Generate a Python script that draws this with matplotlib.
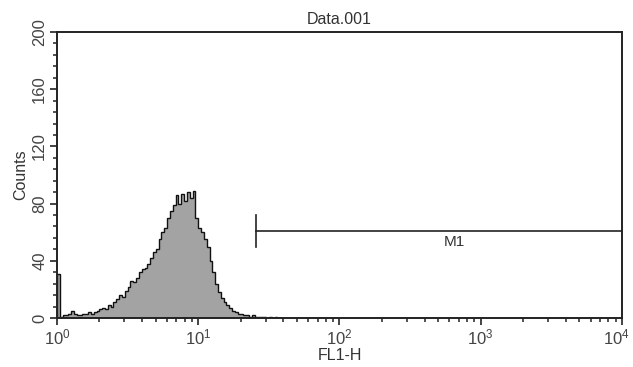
import numpy as np
import matplotlib
matplotlib.use("Agg")
from matplotlib import pyplot as plt
from matplotlib import transforms
from matplotlib.ticker import FixedLocator, NullFormatter

plt.rcParams['font.family'] = ['Liberation Sans', 'DejaVu Sans']
plt.rcParams['mathtext.fontset'] = 'custom'
plt.rcParams['mathtext.rm'] = 'Liberation Sans'
plt.rcParams['mathtext.it'] = 'Liberation Sans'

# FL1-H histogram: channel width is 0.02 decade, starting at 10^0
bin_step = 0.02
counts = [31, 1, 2, 2, 3, 5, 3, 2, 2, 3,
          3, 4, 3, 4, 5, 6, 7, 6, 9, 8,
          11, 13, 16, 15, 19, 22, 26, 25, 28, 32,
          34, 35, 38, 42, 46, 48, 55, 60, 63, 70,
          75, 79, 86, 80, 87, 82, 88, 84, 89, 70,
          63, 60, 55, 50, 40, 32, 24, 18, 14, 11,
          9, 7, 5, 4, 3, 3, 2, 2, 1, 2,
          1, 1, 1, 1, 0, 1, 0, 1, 0, 0]

# M1 marker gate
m1_start, m1_end, m1_level = 25.5, 1e4, 61

y_major = [0, 40, 80, 120, 160, 200]
x_major = [1, 10, 100, 1000, 10000]
x_labels = [r'$10^{0}$', r'$10^{1}$', r'$10^{2}$', r'$10^{3}$', r'$10^{4}$']

fig = plt.figure(figsize=(6.33, 3.67), dpi=100)
ax = fig.add_axes([0.090, 0.1335, 0.8926, 0.7793])

edges = 10 ** (np.arange(len(counts) + 1) * bin_step)
ax.stairs(counts, edges, fill=True, color='#a3a3a3', baseline=0)
ax.stairs(counts, edges, color='#111111', lw=1.0, baseline=0)

ax.plot([m1_start, m1_end], [m1_level, m1_level], color='#222222', lw=1.2)
ax.plot([m1_start, m1_start], [m1_level - 11, m1_level + 11], color='#222222', lw=1.2)
ax.text(650, m1_level - 8, 'M1', ha='center', va='center', fontsize=11, color='#333333')

ax.set_xscale('log')
ax.set_xlim(1, 1e4)
ax.set_ylim(0, 200)

ax.xaxis.set_major_locator(FixedLocator(x_major))
ax.set_xticklabels(x_labels)
ax.xaxis.set_minor_locator(FixedLocator(
    [m * 10 ** e for e in range(4) for m in range(2, 10)]))
ax.xaxis.set_minor_formatter(NullFormatter())

ax.set_yticks(y_major)
ax.set_yticks(np.arange(0, 201, 8), minor=True)
for lbl in ax.get_yticklabels():
    lbl.set_rotation(90)
    lbl.set_va('center')

ax.tick_params(which='major', direction='out', length=5, width=1.2,
               labelsize=12, colors='#222222', labelcolor='#444444')
ax.tick_params(which='minor', direction='out', length=3, width=1.1, colors='#222222')
ax.tick_params(axis='x', pad=2)
ax.tick_params(axis='y', pad=2)

# keep the last decade label inside the figure
last = ax.xaxis.get_major_ticks()[-1].label1
last.set_transform(last.get_transform() +
                   transforms.ScaledTranslation(-6 / 100, 0, fig.dpi_scale_trans))

for s in ax.spines.values():
    s.set_linewidth(1.4)
    s.set_color('#222222')

ax.set_title('Data.001', fontsize=11.5, color='#333333', pad=6)
ax.set_xlabel('FL1-H', fontsize=11.5, color='#333333', labelpad=0)
ax.set_ylabel('Counts', fontsize=11.5, color='#333333', labelpad=3)

fig.savefig('out.png', dpi=100)
